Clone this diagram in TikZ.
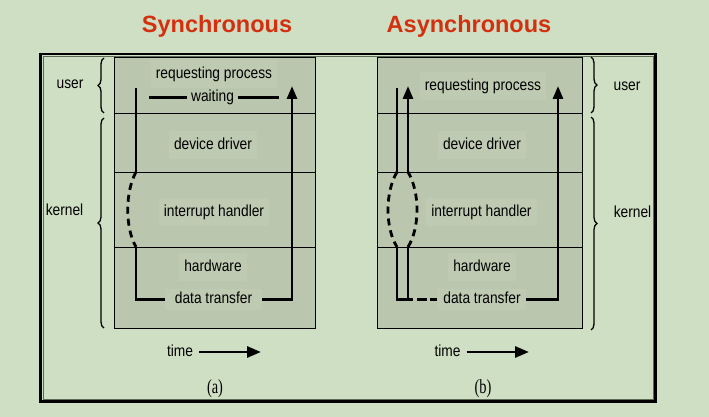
\documentclass[tikz,border=0pt]{standalone}
\usepackage{fontspec}
\setmainfont{Liberation Sans}
\newfontfamily\lblfont[FakeStretch=0.86]{Liberation Sans}
\newfontfamily\capfont[FakeStretch=0.72]{Liberation Serif}
\usetikzlibrary{arrows.meta,decorations.pathreplacing}
\definecolor{bg}{HTML}{CFDFC3}
\definecolor{layer}{HTML}{BAC6AE}
\definecolor{lblbg}{HTML}{BFCAB3}
\definecolor{titlered}{HTML}{D3300F}
\definecolor{framegray}{HTML}{5A6A55}
\begin{document}
\begin{tikzpicture}[x=1pt,y=-1pt,
  layerbox/.style={draw=black, line width=1.1pt, fill=layer, anchor=north west, inner sep=0pt},
  lbl/.style={font=\lblfont\fontsize{16}{18}\selectfont, text height=12pt, text depth=3.5pt, inner xsep=5pt, inner ysep=6pt},
  lblf/.style={lbl, fill=lblbg},
  sidelbl/.style={font=\lblfont\fontsize{16}{18}\selectfont, text height=12pt, text depth=3.5pt, inner sep=0pt},
  titletext/.style={font=\bfseries\fontsize{23.5}{26}\selectfont, text=titlered, anchor=base, inner sep=0pt},
  captext/.style={font=\capfont\fontsize{20}{22}\selectfont, anchor=base, inner sep=0pt},
  flow/.style={line width=2.8pt},
  dashedflow/.style={line width=2.8pt, dash pattern=on 7pt off 5pt},
  tip/.style={-{Triangle[length=13pt,width=10pt]}},
  timearrow/.style={line width=2.8pt, -{Triangle[length=14pt,width=11pt]}},
  bracel/.style={decorate, decoration={brace, amplitude=6pt}, line width=1.3pt},
]
% background and bounding box
\fill[bg] (0,0) rectangle (709,417);
\useasboundingbox (0,0) rectangle (709,417);
% outer frame (double line)
\draw[line width=2.6pt] (40.5,54) rectangle (655.5,401.5);
\draw[framegray, line width=1pt] (43,56.5) rectangle (653,399);

% titles
\node[titletext] (tsync) at (217,33) {Synchronous};
\node[titletext] (tasync) at (469,33) {Asynchronous};

% ---------- left stack (synchronous) ----------
\node[layerbox, minimum width=201pt, minimum height=56pt] (Luser) at (114,57) {};
\node[layerbox, minimum width=201pt, minimum height=59pt] (Ldrv) at (114,113) {};
\node[layerbox, minimum width=201pt, minimum height=75pt] (Lint) at (114,172) {};
\node[layerbox, minimum width=201pt, minimum height=81pt] (Lhw) at (114,247) {};

\node[lblf] (Lreq) at (214,74) {requesting process};
\node[lbl, inner xsep=4pt, inner ysep=3pt] (Lwait) at (212.5,97.5) {waiting};
\node[lblf] (Ldrvt) at (213,145) {device driver};
\node[lblf] (Linth) at (214,212) {interrupt handler};
\node[lblf] (Lhwt) at (213,267) {hardware};
\node[lbl, fill=lblbg, inner xsep=10pt, inner ysep=3pt] (Ldata) at (213.5,299.5) {data transfer};

% sync flow
\coordinate (s1) at (136,88);
\coordinate (s2) at (136,172);
\coordinate (s3) at (136,247);
\coordinate (s4) at (136,299.5);
\coordinate (s5) at (292,299.5);
\coordinate (s6) at (292,86);
\coordinate (w1) at (149,97.5);
\coordinate (w2) at (279,97.5);
\draw[flow] (s1) -- (s2);
\draw[dashedflow] (s2) .. controls (125,192) and (125,228) .. (s3);
\draw[flow] (s3) -- (s4) -- (Ldata.west);
\draw[flow, tip] (Ldata.east) -- (s5) -- (s6);
\draw[flow] (w1) -- (Lwait.west);
\draw[flow] (Lwait.east) -- (w2);

% left braces
\draw[bracel] (104,113) -- (104,58);
\draw[bracel] (104,328) -- (104,118);
\node[sidelbl] (Luserl) at (70,84) {user};
\node[sidelbl] (Lkern) at (64.5,211) {kernel};

% time and caption
\node[sidelbl] (Ltime) at (180,352) {time};
\coordinate (Ltimeend) at (261,352);
\draw[timearrow] ([xshift=6pt]Ltime.east) -- (Ltimeend);
\node[captext] (capa) at (215,393) {(a)};

% ---------- right stack (asynchronous) ----------
\node[layerbox, minimum width=205pt, minimum height=56pt] (Ruser) at (377,57) {};
\node[layerbox, minimum width=205pt, minimum height=59pt] (Rdrv) at (377,113) {};
\node[layerbox, minimum width=205pt, minimum height=75pt] (Rint) at (377,172) {};
\node[layerbox, minimum width=205pt, minimum height=81pt] (Rhw) at (377,247) {};

\node[lblf] (Rreq) at (483,86) {requesting process};
\node[lblf] (Rdrvt) at (482,145) {device driver};
\node[lblf] (Rinth) at (481.5,212) {interrupt handler};
\node[lblf] (Rhwt) at (482,267) {hardware};
\node[lbl, fill=lblbg, inner xsep=5pt, inner ysep=3pt] (Rdata) at (482,299.5) {data transfer};

% async flow
\coordinate (a1) at (397,88);
\coordinate (a2) at (397,172);
\coordinate (a3) at (397,247);
\coordinate (a4) at (397,299.5);
\coordinate (b1) at (408,86);
\coordinate (b2) at (408,172);
\coordinate (b3) at (408,247);
\coordinate (b4) at (408,299.5);
\coordinate (c1) at (413,299.5);
\coordinate (r5) at (558,299.5);
\coordinate (r6) at (558,86);
\draw[flow] (a1) -- (a2);
\draw[dashedflow] (a2) .. controls (385,192) and (385,228) .. (a3);
\draw[flow] (a3) -- (a4) -- (c1);
\draw[flow] (b4) -- (b3);
\draw[dashedflow] (b3) .. controls (420,228) and (420,192) .. (b2);
\draw[flow, tip] (b2) -- (b1);
\draw[line width=2.8pt, dash pattern=on 0pt off 4pt on 10pt off 3pt on 7pt off 100pt] (c1) -- (Rdata.west);
\draw[flow, tip] (Rdata.east) -- (r5) -- (r6);

% right braces
\draw[bracel] (591,57) -- (591,113);
\draw[bracel] (591,117) -- (591,330);
\node[sidelbl] (Ruserl) at (627,86) {user};
\node[sidelbl] (Rkern) at (632.5,213) {kernel};

% time and caption
\node[sidelbl] (Rtime) at (447.5,352) {time};
\coordinate (Rtimeend) at (529,352);
\draw[timearrow] ([xshift=6pt]Rtime.east) -- (Rtimeend);
\node[captext] (capb) at (483,393) {(b)};
\end{tikzpicture}
\end{document}
